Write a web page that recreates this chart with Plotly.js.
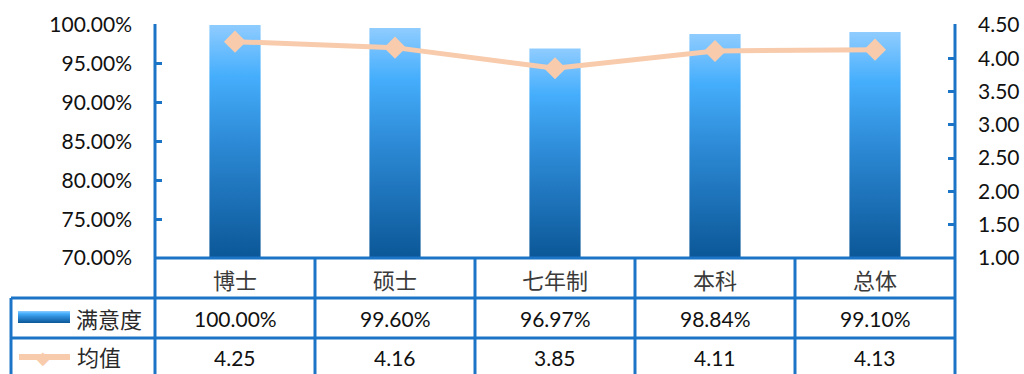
<!DOCTYPE html>
<html>
<head>
<meta charset="utf-8">
<script src="https://cdn.plot.ly/plotly-3.0.1.min.js"></script>
<style>
html,body{margin:0;padding:0;background:#fff;}
#chart{width:1024px;height:374px;}
</style>
</head>
<body>
<div id="chart"></div>
<script>
// ---- data ----
const categories = ['博士', '硕士', '七年制', '本科', '总体'];
const satisfaction = [1.0000, 0.9960, 0.9697, 0.9884, 0.9910];
const meanScore = [4.25, 4.16, 3.85, 4.11, 4.13];
const seriesNames = ['满意度', '均值'];
const leftTicks = [0.70, 0.75, 0.80, 0.85, 0.90, 0.95, 1.00];
const rightTicks = [1.0, 1.5, 2.0, 2.5, 3.0, 3.5, 4.0, 4.5];

// ---- styling ----
const BLUE = '#1c74c6';
const PEACH = '#f8cbad';
const SENTINEL = 'rgb(1, 2, 3)';
const NUMFONT = 'Lato, "Noto Sans CJK SC", sans-serif';
const CJKFONT = '"Noto Sans CJK SC", sans-serif';
const W = 1024, H = 374, L = 155, R = 69, T = 25, B = 116;
const PW = W - L - R, PH = H - T - B;
const px2x = p => (p - L) / PW;
const px2y = p => (H - B - p) / PH;

const traces = [
  {
    type: 'bar', x: categories, y: satisfaction.map(v => v - leftTicks[0]), base: leftTicks[0], name: seriesNames[0],
    width: 0.32, marker: {color: SENTINEL, line: {width: 0}},
    yaxis: 'y', hoverinfo: 'skip'
  },
  {
    type: 'scatter', mode: 'lines+markers', x: categories, y: meanScore, name: seriesNames[1],
    line: {color: PEACH, width: 5},
    marker: {symbol: 'diamond', size: 17, color: PEACH},
    yaxis: 'y2', hoverinfo: 'skip'
  }
];

const shapes = [];
const annotations = [];
const lineW = 3;
const bottomY = -0.56;
// vertical lines: left axis and right axis extended through table
shapes.push({type: 'line', xref: 'paper', yref: 'paper', x0: 0, x1: 0, y0: 1.004, y1: bottomY, line: {color: BLUE, width: lineW}});
shapes.push({type: 'line', xref: 'paper', yref: 'paper', x0: 1, x1: 1, y0: 1.004, y1: bottomY, line: {color: BLUE, width: lineW}});
// column separators
for (let i = 1; i < categories.length; i++) {
  const xp = i / categories.length;
  shapes.push({type: 'line', xref: 'paper', yref: 'paper', x0: xp, x1: xp, y0: 0, y1: bottomY, line: {color: BLUE, width: lineW}});
}
// horizontal lines
const rowLines = [298, 338];
shapes.push({type: 'line', xref: 'paper', yref: 'paper', x0: 0, x1: 1, y0: 0, y1: 0, line: {color: BLUE, width: lineW}});
rowLines.forEach(p => {
  shapes.push({type: 'line', xref: 'paper', yref: 'paper', x0: px2x(11), x1: 1, y0: px2y(p), y1: px2y(p), line: {color: BLUE, width: lineW}});
});
// table left border
shapes.push({type: 'line', xref: 'paper', yref: 'paper', x0: px2x(11), x1: px2x(11), y0: px2y(298), y1: bottomY, line: {color: BLUE, width: lineW}});
// legend swatch (bar) in table
shapes.push({type: 'rect', xref: 'paper', yref: 'paper', x0: px2x(18), x1: px2x(70), y0: px2y(311), y1: px2y(323), fillcolor: SENTINEL, line: {width: 0}});
// legend line sample
shapes.push({type: 'line', xref: 'paper', yref: 'paper', x0: px2x(19), x1: px2x(70), y0: px2y(357), y1: px2y(357), line: {color: PEACH, width: 6}});
annotations.push({xref: 'paper', yref: 'paper', x: px2x(43), y: px2y(357.5), text: '◆', showarrow: false,
  font: {family: 'DejaVu Sans', size: 18, color: PEACH}, xanchor: 'center', yanchor: 'middle'});

// legend names
annotations.push({xref: 'paper', yref: 'paper', x: px2x(74), y: px2y(318), text: seriesNames[0], showarrow: false,
  font: {family: CJKFONT, size: 22, color: '#2a2a2a'}, xanchor: 'left', yanchor: 'middle'});
annotations.push({xref: 'paper', yref: 'paper', x: px2x(75), y: px2y(356), text: seriesNames[1], showarrow: false,
  font: {family: CJKFONT, size: 22, color: '#2a2a2a'}, xanchor: 'left', yanchor: 'middle'});

// table cells
categories.forEach((c, i) => {
  annotations.push({xref: 'x', yref: 'paper', x: c, y: px2y(279), text: c, showarrow: false,
    font: {family: CJKFONT, size: 22, color: '#3a3a3a'}, xanchor: 'center', yanchor: 'middle'});
  annotations.push({xref: 'x', yref: 'paper', x: c, y: px2y(318.5), text: (satisfaction[i] * 100).toFixed(2) + '%', showarrow: false,
    font: {family: NUMFONT, size: 21, color: '#111'}, xanchor: 'center', yanchor: 'middle'});
  annotations.push({xref: 'x', yref: 'paper', x: c, y: px2y(357.5), text: meanScore[i].toFixed(2), showarrow: false,
    font: {family: NUMFONT, size: 21, color: '#111'}, xanchor: 'center', yanchor: 'middle'});
});

const layout = {
  width: W, height: H,
  margin: {l: L, r: R, t: T, b: B, pad: 0},
  paper_bgcolor: '#fff', plot_bgcolor: '#fff',
  showlegend: false,
  xaxis: {type: 'category', showticklabels: false, ticks: '', showgrid: false, zeroline: false, showline: false, range: [-0.5, 4.5]},
  yaxis: {
    range: [0.70, 1.00], tickvals: leftTicks, ticktext: leftTicks.map(v => (v * 100).toFixed(2) + '%'),
    ticks: 'inside', ticklen: 7, tickwidth: 3, tickcolor: BLUE,
    showgrid: false, zeroline: false, showline: false,
    ticklabelstandoff: 22,
    tickfont: {family: NUMFONT, size: 21, color: '#111'}
  },
  yaxis2: {
    overlaying: 'y', side: 'right',
    range: [1.0, 4.5], tickvals: rightTicks, ticktext: rightTicks.map(v => v.toFixed(2)),
    ticks: 'inside', ticklen: 7, tickwidth: 3, tickcolor: BLUE,
    showgrid: false, zeroline: false, showline: false,
    ticklabelstandoff: 22,
    tickfont: {family: NUMFONT, size: 21, color: '#111'}
  },
  shapes: shapes,
  annotations: annotations
};

function applyGradient(gd) {
  const svg = gd.querySelector('.main-svg');
  if (!svg) return;
  let defs = svg.querySelector('defs');
  if (!defs) { defs = document.createElementNS('http://www.w3.org/2000/svg', 'defs'); svg.insertBefore(defs, svg.firstChild); }
  if (!svg.querySelector('#barGrad')) {
    const g = document.createElementNS('http://www.w3.org/2000/svg', 'linearGradient');
    g.setAttribute('id', 'barGrad');
    g.setAttribute('x1', '0'); g.setAttribute('y1', '0'); g.setAttribute('x2', '0'); g.setAttribute('y2', '1');
    [['0', '#8fccff'], ['0.22', '#45aefc'], ['0.5', '#2d8ad6'], ['1', '#0b5797']].forEach(([o, c]) => {
      const s = document.createElementNS('http://www.w3.org/2000/svg', 'stop');
      s.setAttribute('offset', o); s.setAttribute('stop-color', c);
      g.appendChild(s);
    });
    defs.appendChild(g);
  }
  gd.querySelectorAll('path').forEach(p => {
    const f = p.style.fill || p.getAttribute('fill') || '';
    if (f.replace(/\s/g, '') === 'rgb(1,2,3)') {
      p.style.fill = 'url(#barGrad)';
      p.style.fillOpacity = '1';
    }
  });
}

const gd = document.getElementById('chart');
Plotly.newPlot(gd, traces, layout, {staticPlot: true, displayModeBar: false}).then(() => {
  applyGradient(gd);
  gd.on('plotly_afterplot', () => applyGradient(gd));
});
</script>
</body>
</html>
